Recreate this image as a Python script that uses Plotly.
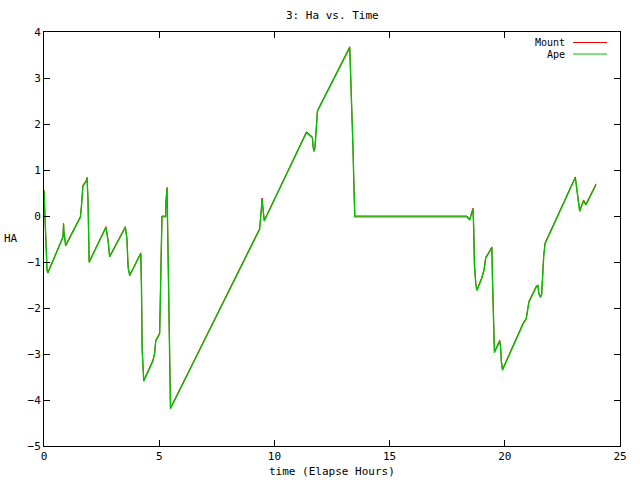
import plotly.graph_objects as go

# Time (elapsed hours)
time_h = [
    0.00, 0.03, 0.10, 0.13, 0.17, 0.75, 0.82, 0.85, 0.86, 0.94,
    1.58, 1.62, 1.66, 1.69, 1.84, 1.87, 1.91, 1.94, 1.96, 2.69,
    2.78, 2.85, 3.53, 3.60, 3.65, 3.72, 4.20, 4.23, 4.26, 4.33,
    4.73, 4.80, 4.85, 5.02, 5.05, 5.11, 5.12, 5.28, 5.29, 5.34,
    5.37, 5.43, 5.47, 5.49, 9.36, 9.40, 9.44, 9.46, 9.50, 9.53,
    9.56, 11.39, 11.53, 11.65, 11.68, 11.72, 11.76, 11.79, 11.82, 11.87,
    13.27, 13.30, 13.36, 13.41, 13.46, 13.49, 18.36, 18.42, 18.48, 18.55,
    18.62, 18.65, 18.68, 18.74, 18.79, 18.99, 19.10, 19.17, 19.35, 19.44,
    19.46, 19.50, 19.55, 19.78, 19.82, 19.85, 19.90, 20.79, 20.93, 21.01,
    21.05, 21.37, 21.44, 21.48, 21.55, 21.60, 21.63, 21.69, 21.75, 23.06,
    23.10, 23.15, 23.21, 23.25, 23.42, 23.52, 23.96,
]

mount_ha = [
    0.57, 0.09, -0.81, -1.16, -1.22, -0.55, -0.45, -0.16, -0.30, -0.63,
    -0.01, 0.19, 0.49, 0.67, 0.78, 0.84, 0.35, -0.52, -0.99, -0.23,
    -0.52, -0.87, -0.23, -0.49, -1.10, -1.28, -0.80, -1.50, -2.89, -3.57,
    -3.13, -2.98, -2.70, -2.54, -1.90, -0.63, 0.00, 0.00, 0.29, 0.62,
    -0.20, -1.79, -3.40, -4.17, -0.27, -0.10, 0.20, 0.39, 0.24, 0.06,
    -0.09, 1.83, 1.76, 1.72, 1.51, 1.42, 1.49, 1.69, 2.07, 2.30,
    3.68, 3.26, 2.43, 1.51, 0.51, 0.00, 0.00, -0.04, -0.07, 0.06,
    0.17, -0.25, -1.03, -1.46, -1.60, -1.35, -1.16, -0.90, -0.74, -0.67,
    -1.25, -2.37, -2.95, -2.70, -2.85, -3.14, -3.33, -2.33, -2.22, -1.97,
    -1.85, -1.52, -1.50, -1.68, -1.75, -1.69, -1.39, -0.85, -0.58, 0.85,
    0.70, 0.48, 0.22, 0.12, 0.35, 0.26, 0.70,
]

ape_ha = [
    0.55, 0.07, -0.83, -1.18, -1.24, -0.57, -0.47, -0.18, -0.32, -0.65,
    -0.03, 0.17, 0.47, 0.65, 0.76, 0.82, 0.33, -0.54, -1.01, -0.25,
    -0.54, -0.89, -0.25, -0.51, -1.12, -1.30, -0.82, -1.52, -2.91, -3.59,
    -3.15, -3.00, -2.72, -2.56, -1.92, -0.65, -0.02, -0.02, 0.27, 0.60,
    -0.22, -1.81, -3.42, -4.19, -0.29, -0.12, 0.18, 0.37, 0.22, 0.04,
    -0.11, 1.81, 1.74, 1.70, 1.49, 1.40, 1.47, 1.67, 2.05, 2.28,
    3.66, 3.24, 2.41, 1.49, 0.49, -0.02, -0.02, -0.06, -0.09, 0.04,
    0.15, -0.27, -1.05, -1.48, -1.62, -1.37, -1.18, -0.92, -0.76, -0.69,
    -1.27, -2.39, -2.97, -2.72, -2.87, -3.16, -3.35, -2.35, -2.24, -1.99,
    -1.87, -1.54, -1.52, -1.70, -1.77, -1.71, -1.41, -0.87, -0.60, 0.83,
    0.68, 0.46, 0.20, 0.10, 0.33, 0.24, 0.68,
]

series_names = ["Mount", "Ape"]
series_colors = ["#ff0000", "#00c000"]
series_widths = [1.0, 1.4]

FONT = "DejaVu Sans Mono"
W, H = 640, 480
L, R, T, B = 44, 20, 32, 34
PW, PH = W - L - R, H - T - B

def px_x(px):
    return (px - L) / PW

def px_y(py):
    return (H - B - py) / PH

fig = go.Figure()
for name, vals, col, wd in zip(series_names, [mount_ha, ape_ha], series_colors, series_widths):
    fig.add_trace(go.Scatter(x=time_h, y=vals, mode="lines", name=name,
                             line=dict(color=col, width=wd), showlegend=False))

axis_common = dict(showline=True, linecolor="black", linewidth=1, mirror="allticks",
                   ticks="inside", ticklen=6, tickcolor="black", showgrid=False,
                   zeroline=False, tickfont=dict(family=FONT, size=11, color="black"))

fig.update_xaxes(range=[0, 25], dtick=5, tick0=0, **axis_common)
fig.update_yaxes(range=[-5, 4], dtick=1, tick0=0, **axis_common)

annotations = [
    dict(text="3: Ha vs. Time", xref="paper", yref="paper", x=px_x(332), y=px_y(15),
         showarrow=False, xanchor="center", yanchor="middle",
         font=dict(family=FONT, size=11, color="black")),
    dict(text="time (Elapse Hours)", xref="paper", yref="paper", x=px_x(332), y=px_y(471),
         showarrow=False, xanchor="center", yanchor="middle",
         font=dict(family=FONT, size=11, color="black")),
    dict(text="HA", xref="paper", yref="paper", x=px_x(11), y=px_y(238),
         showarrow=False, xanchor="center", yanchor="middle",
         font=dict(family=FONT, size=11, color="black")),
]
shapes = []
for i, (name, col) in enumerate(zip(series_names, series_colors)):
    ly = 42.5 + i * 11.5
    annotations.append(dict(text=name, xref="paper", yref="paper", x=px_x(567), y=px_y(ly),
                            showarrow=False, xanchor="right", yanchor="middle",
                            font=dict(family=FONT, size=10, color="black")))
    shapes.append(dict(type="line", xref="paper", yref="paper",
                       x0=px_x(573), x1=px_x(607), y0=px_y(ly), y1=px_y(ly),
                       line=dict(color=col, width=1)))

fig.update_layout(width=W, height=H, margin=dict(l=L, r=R, t=T, b=B),
                  plot_bgcolor="white", paper_bgcolor="white",
                  annotations=annotations, shapes=shapes, showlegend=False)

fig.write_html("out.html", config={"displayModeBar": False},
               post_script="document.body.style.margin='0';")
